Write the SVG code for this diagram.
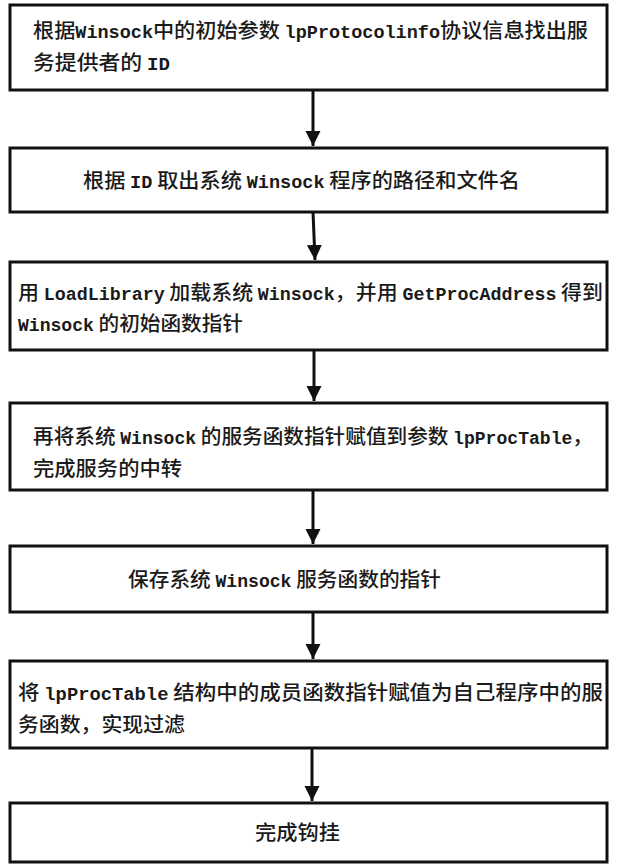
<svg xmlns="http://www.w3.org/2000/svg" width="618" height="867" viewBox="0 0 618 867">
<defs>
<style>
.box{fill:#fff;stroke:#111;stroke-width:3}
.t{font-family:"Noto Sans CJK SC","Liberation Sans",sans-serif;font-size:20px;font-weight:500;fill:#1a1a1a}
.m{font-family:"Liberation Mono","Noto Sans CJK SC",monospace;font-size:17.5px;font-weight:bold}
.c{stroke:#111;stroke-width:3;fill:none}
</style>
<marker id="ah" viewBox="0 0 10 10" refX="10" refY="5" markerWidth="5" markerHeight="6.5" orient="auto" markerUnits="strokeWidth">
<path d="M0,0 L10,5 L0,10 Z" fill="#111"/>
</marker>
</defs>
<rect width="618" height="867" fill="#fff"/>
<g id="connectors">
<line class="c" x1="313" y1="90" x2="313" y2="146" marker-end="url(#ah)"/>
<line class="c" x1="313" y1="212" x2="315" y2="260" marker-end="url(#ah)"/>
<line class="c" x1="314" y1="350" x2="314" y2="401" marker-end="url(#ah)"/>
<line class="c" x1="313" y1="490" x2="313" y2="544" marker-end="url(#ah)"/>
<line class="c" x1="313" y1="612" x2="313" y2="659" marker-end="url(#ah)"/>
<line class="c" x1="312" y1="748" x2="312" y2="801" marker-end="url(#ah)"/>
</g>
<g id="n1">
<rect class="box" x="10" y="5" width="597" height="85"/>
<text class="t" x="33" y="38" textLength="555" lengthAdjust="spacingAndGlyphs">根据<tspan class="m">Winsock</tspan>中的初始参数 <tspan class="m">lpProtocolinfo</tspan>协议信息找出服</text>
<text class="t" x="33" y="70" textLength="137" lengthAdjust="spacingAndGlyphs">务提供者的 <tspan class="m">ID</tspan></text>
</g>
<g id="n2">
<rect class="box" x="10" y="148" width="597" height="64"/>
<text class="t" x="83" y="188" textLength="437" lengthAdjust="spacingAndGlyphs">根据 <tspan class="m">ID</tspan> 取出系统 <tspan class="m">Winsock</tspan> 程序的路径和文件名</text>
</g>
<g id="n3">
<rect class="box" x="10" y="262" width="597" height="88"/>
<text class="t" x="18" y="300" textLength="585" lengthAdjust="spacingAndGlyphs">用 <tspan class="m">LoadLibrary</tspan> 加载系统 <tspan class="m">Winsock</tspan>，并用 <tspan class="m">GetProcAddress</tspan> 得到</text>
<text class="t" x="18" y="331" textLength="225" lengthAdjust="spacingAndGlyphs"><tspan class="m">Winsock</tspan> 的初始函数指针</text>
</g>
<g id="n4">
<rect class="box" x="10" y="403" width="597" height="87"/>
<text class="t" x="33" y="444" textLength="560" lengthAdjust="spacingAndGlyphs">再将系统 <tspan class="m">Winsock</tspan> 的服务函数指针赋值到参数 <tspan class="m">lpProcTable</tspan>，</text>
<text class="t" x="33" y="476" textLength="149" lengthAdjust="spacingAndGlyphs">完成服务的中转</text>
</g>
<g id="n5">
<rect class="box" x="10" y="546" width="597" height="66"/>
<text class="t" x="128" y="587" textLength="313" lengthAdjust="spacingAndGlyphs">保存系统 <tspan class="m">Winsock</tspan> 服务函数的指针</text>
</g>
<g id="n6">
<rect class="box" x="10" y="661" width="597" height="87"/>
<text class="t" x="18" y="700" textLength="585" lengthAdjust="spacingAndGlyphs">将 <tspan class="m">lpProcTable</tspan> 结构中的成员函数指针赋值为自己程序中的服</text>
<text class="t" x="18" y="732" textLength="167" lengthAdjust="spacingAndGlyphs">务函数，实现过滤</text>
</g>
<g id="n7">
<rect class="box" x="10" y="803" width="597" height="59"/>
<text class="t" x="255" y="840" textLength="85" lengthAdjust="spacingAndGlyphs">完成钩挂</text>
</g>
</svg>
